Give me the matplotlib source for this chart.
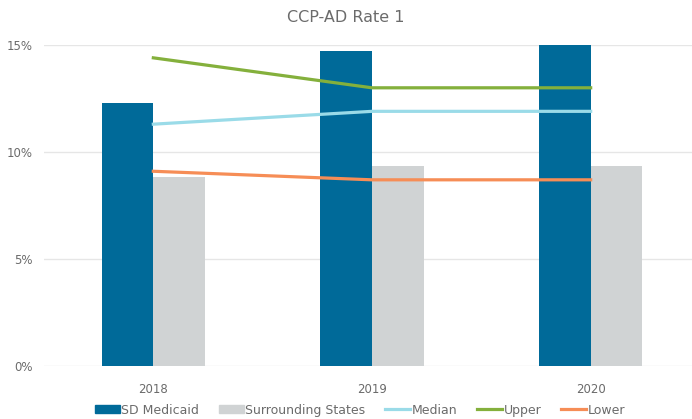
import matplotlib
matplotlib.use("Agg")
import matplotlib.pyplot as plt
import numpy as np
from matplotlib.patches import Patch
from matplotlib.lines import Line2D

years = ["2018", "2019", "2020"]
sd_medicaid = [12.3, 14.7, 15.0]
surrounding = [8.85, 9.35, 9.35]
median = [11.3, 11.9, 11.9]
upper = [14.4, 13.0, 13.0]
lower = [9.1, 8.7, 8.7]

plt.rcParams['font.family'] = ['DejaVu Sans']
txt = '#6b6b6b'

fig = plt.figure(figsize=(6.92, 4.19), dpi=100)
ax = fig.add_axes([44/692, 53/419, 656/692, 321/419])

x = np.arange(len(years))
w = 0.236
c_sd = '#006A99'
c_sur = '#D0D3D4'
c_med = '#9ADBE8'
c_up = '#84B03C'
c_lo = '#F68D56'

ax.bar(x - w/2, sd_medicaid, w, color=c_sd, zorder=2)
ax.bar(x + w/2, surrounding, w, color=c_sur, zorder=2)
ax.plot(x, median, color=c_med, lw=2.3, zorder=3)
ax.plot(x, upper, color=c_up, lw=2.3, zorder=3)
ax.plot(x, lower, color=c_lo, lw=2.3, zorder=3)

ax.set_xlim(-0.5, 2.5)
ax.set_ylim(0, 15)
ax.set_yticks([0, 5, 10, 15])
ax.set_yticklabels(['0%', '5%', '10%', '15%'])
ax.set_xticks(x)
ax.set_xticklabels(years)
ax.grid(axis='y', color='#E6E6E6', lw=1, zorder=0)
for s in ax.spines.values():
    s.set_visible(False)
ax.tick_params(axis='both', length=0, colors=txt, labelsize=8.5)
ax.tick_params(axis='x', pad=12)
ax.tick_params(axis='y', pad=8)

fig.text(0.5, 1 - 17/419, 'CCP-AD Rate 1', ha='center', va='center', fontsize=11.5, color=txt)

handles = [Patch(color=c_sd), Patch(color=c_sur),
           Line2D([], [], color=c_med, lw=2.3), Line2D([], [], color=c_up, lw=2.3),
           Line2D([], [], color=c_lo, lw=2.3)]
labels = ['SD Medicaid', 'Surrounding States', 'Median', 'Upper', 'Lower']
fig.legend(handles, labels, loc='center', bbox_to_anchor=(360/692, 1 - 410/419), ncol=5,
           frameon=False, fontsize=9, labelcolor=txt, handlelength=2.0, handleheight=0.6,
           handletextpad=0.1, columnspacing=1.6)

fig.savefig('out.png', dpi=100)
